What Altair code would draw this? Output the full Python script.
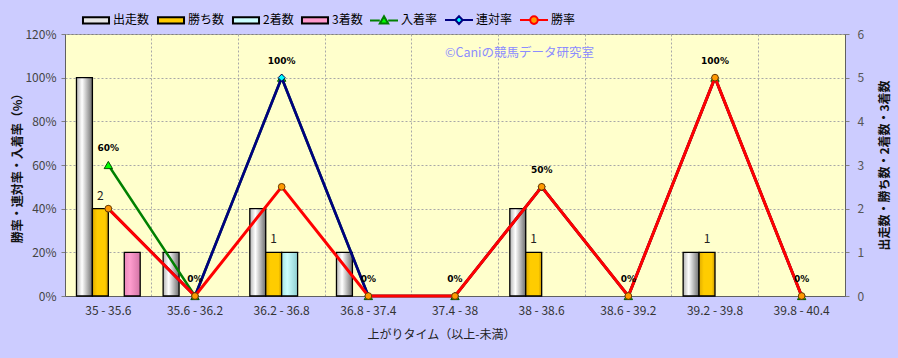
import altair as alt
import pandas as pd

# ---------------- data ----------------
categories = ["35 - 35.6", "35.6 - 36.2", "36.2 - 36.8", "36.8 - 37.4", "37.4 - 38",
              "38 - 38.6", "38.6 - 39.2", "39.2 - 39.8", "39.8 - 40.4"]

bar_series = ["出走数", "勝ち数", "2着数", "3着数"]
runs = [5, 1, 2, 1, 0, 2, 0, 1, 0]        # 出走数
wins = [2, 0, 1, 0, 0, 1, 0, 1, 0]        # 勝ち数
seconds = [0, 0, 1, 0, 0, 0, 0, 0, 0]     # 2着数
thirds = [1, 0, 0, 0, 0, 0, 0, 0, 0]      # 3着数

rate_series = ["入着率", "連対率", "勝率"]
place_rate = [0.6, 0.0, 1.0, 0.0, 0.0, 0.5, 0.0, 1.0, 0.0]    # 入着率
rentai_rate = [0.4, 0.0, 1.0, 0.0, 0.0, 0.5, 0.0, 1.0, 0.0]   # 連対率
win_rate = [0.4, 0.0, 0.5, 0.0, 0.0, 0.5, 0.0, 1.0, 0.0]      # 勝率

bar_values = {"出走数": runs, "勝ち数": wins, "2着数": seconds, "3着数": thirds}
rate_values = {"入着率": place_rate, "連対率": rentai_rate, "勝率": win_rate}

bars_df = pd.DataFrame([{"cat": c, "series": s, "n": v}
                        for s in bar_series for c, v in zip(categories, bar_values[s])])
rates_df = pd.DataFrame([{"cat": c, "series": s, "rate": v}
                         for s in rate_series for c, v in zip(categories, rate_values[s])])
legend_df = pd.DataFrame({"series": bar_series + rate_series})

# ---------------- styles ----------------
FONT = "Noto Sans CJK JP"
W, H = 780, 262


def grad(stops):
    return alt.LinearGradient(gradient="linear", x1=0, x2=1, y1=0, y2=0,
                              stops=[alt.GradientStop(offset=o, color=c) for o, c in stops])


bar_fills = {
    "出走数": grad([(0, "#b4b4b4"), (0.35, "#ffffff"), (1, "#6e6e6e")]),
    "勝ち数": grad([(0, "#e0ac00"), (0.3, "#ffcc00"), (0.8, "#ffcc00"), (1, "#c89600")]),
    "2着数": grad([(0, "#a6e4e4"), (0.35, "#ccffff"), (1, "#8fd0d0")]),
    "3着数": grad([(0, "#ea88ba"), (0.35, "#ff9ecf"), (1, "#d474a6")]),
}
line_colors = {"入着率": "#008000", "連対率": "#000080", "勝率": "#ff0000"}
line_widths = {"入着率": 2.5, "連対率": 2.7, "勝率": 3.0}
marker_fill = {"入着率": "#00ff00", "連対率": "#00ffff", "勝率": "#ff9900"}
marker_stroke = {"入着率": "#005000", "連対率": "#000060", "勝率": "#6a3c00"}
marker_shape = {"入着率": "triangle-up", "連対率": "diamond", "勝率": "circle"}
marker_size = {"入着率": 70, "連対率": 50, "勝率": 45}

legend_fill = ["#e6e6e6", "#ffcc00", "#ccffff", "#ff99cc", "#00ff00", "#00ffff", "#ff9900"]
legend_stroke = ["#000000", "#000000", "#000000", "#000000", "#008000", "#000080", "#ff0000"]
rect_path = "M-0.93,-0.23H0.93V0.23H-0.93Z"
seg = "M-1,0H-0.3M0.3,0H1"
legend_shapes = [rect_path, rect_path, rect_path, rect_path,
                 seg + "M0,-0.3L0.3,0.22L-0.3,0.22Z",
                 seg + "M0,-0.28L0.26,0L0,0.28L-0.26,0Z",
                 seg + "M0.27,0A0.27,0.27 0 1,1 -0.27,0A0.27,0.27 0 1,1 0.27,0Z"]


def x_enc():
    return alt.X("cat:N", sort=categories,
                 scale=alt.Scale(type="band", domain=categories, paddingInner=0, paddingOuter=0),
                 axis=alt.Axis(title="上がりタイム（以上-未満）", labelAngle=0, bandPosition=0,
                               ticks=False, grid=True, gridDash=[2, 2],
                               gridColor="#a8a8a8", gridWidth=1, domainColor="#606060",
                               labelFont=FONT, labelFontSize=12, labelColor="#333333",
                               labelPadding=9, titleFont=FONT, titleFontSize=12,
                               titleFontWeight="normal", titleColor="#222222", titlePadding=13,
                               titleX=376, labelOverlap=False))


xoff = alt.XOffset("series:N", sort=bar_series,
                   scale=alt.Scale(domain=bar_series, paddingInner=0, paddingOuter=0.72))

y_right = alt.Y("n:Q", scale=alt.Scale(domain=[0, 6], nice=False),
                axis=alt.Axis(orient="right", values=[0, 1, 2, 3, 4, 5, 6], grid=False,
                              title="出走数・勝ち数・2着数・3着数", titleAngle=270,
                              titleBaseline="top",
                              titleFont=FONT, titleFontSize=12, titleFontWeight="bold",
                              titleColor="#111111", titlePadding=16,
                              labelFont=FONT, labelFontSize=12, labelColor="#555555",
                              tickSize=4, tickColor="#808080", labelPadding=8,
                              domainColor="#606060"))

y_left = alt.Y("rate:Q", scale=alt.Scale(domain=[0, 1.2], nice=False),
               axis=alt.Axis(orient="left", values=[0, 0.2, 0.4, 0.6, 0.8, 1.0, 1.2],
                             format=".0%", grid=True, gridDash=[2, 2], gridColor="#a8a8a8",
                             title="勝率・連対率・入着率（%）", titleFont=FONT, titleFontSize=12,
                             titleFontWeight="bold", titleColor="#111111", titlePadding=0,
                             labelFont=FONT, labelFontSize=12, labelColor="#444444",
                             tickSize=4, tickColor="#808080", labelPadding=5,
                             domainColor="#606060"))

# ---------------- bars ----------------
bar_layers = []
for s in bar_series:
    bar_layers.append(
        alt.Chart(bars_df)
        .transform_filter((alt.datum.series == s) & (alt.datum.n > 0))
        .mark_bar(fill=bar_fills[s], stroke="#000000", strokeWidth=1.3)
        .encode(x=x_enc(), xOffset=xoff, y=y_right)
    )

bar_text = (
    alt.Chart(bars_df)
    .transform_filter((alt.datum.series == "勝ち数") & (alt.datum.n > 0))
    .mark_text(dy=-13, font=FONT, fontSize=12, color="#222222")
    .encode(x=x_enc(), xOffset=xoff, y=y_right, text=alt.Text("n:Q"))
)

bars_group = alt.layer(*bar_layers, bar_text)

# ---------------- lines ----------------
line_layers = []
for s in rate_series:
    base = alt.Chart(rates_df).transform_filter(alt.datum.series == s)
    line_layers.append(
        base.mark_line(color=line_colors[s], strokeWidth=line_widths[s]).encode(x=x_enc(), y=y_left)
    )
    line_layers.append(
        base.mark_point(filled=True, shape=marker_shape[s], size=marker_size[s],
                        fill=marker_fill[s], stroke=marker_stroke[s], strokeWidth=1,
                        opacity=1)
        .encode(x=x_enc(), y=y_left)
    )

pct_text = (
    alt.Chart(rates_df)
    .transform_filter(alt.datum.series == "入着率")
    .mark_text(dy=-17, font="DejaVu Sans", fontSize=9, fontWeight="bold", color="#000000")
    .encode(x=x_enc(), y=y_left, text=alt.Text("rate:Q", format=".0%"))
)

legend_spec = alt.Legend(orient="none", direction="horizontal", legendX=16, legendY=-29,
                         title=None, symbolSize=784, symbolStrokeWidth=2, symbolOpacity=1,
                         labelFont=FONT, labelFontSize=12, labelColor="#000000",
                         labelOffset=2, columnPadding=3, padding=0, labelLimit=120)

legend_layer = (
    alt.Chart(legend_df)
    .transform_filter("false")
    .mark_point(filled=True)
    .encode(
        fill=alt.Fill("series:N", scale=alt.Scale(domain=bar_series + rate_series, range=legend_fill),
                      legend=legend_spec),
        stroke=alt.Stroke("series:N", scale=alt.Scale(domain=bar_series + rate_series, range=legend_stroke),
                          legend=legend_spec),
        shape=alt.Shape("series:N", scale=alt.Scale(domain=bar_series + rate_series, range=legend_shapes),
                        legend=legend_spec),
    )
)

lines_group = alt.layer(*line_layers, pct_text, legend_layer)

chart = (
    alt.layer(bars_group, lines_group)
    .resolve_scale(y="independent")
    .properties(
        width=W, height=H,
        padding={"left": 65, "top": 34, "right": 53, "bottom": 62},
        autosize=alt.AutoSizeParams(type="none"),
        view=alt.ViewBackground(fill="#ffffcc", stroke="#808080", strokeWidth=1),
        title=alt.Title("©Caniの競馬データ研究室", anchor="start", frame="group", dx=380, dy=60,
                        offset=0, align="left", baseline="middle", font=FONT, fontSize=12.5,
                        fontWeight="normal", color="#8c8cff"),
    )
    .configure(background="#ccccff")
    .configure_view(fill="#ffffcc", stroke="#808080", strokeWidth=1)
)

chart.save("out.html", embed_options={"renderer": "svg", "actions": False})
